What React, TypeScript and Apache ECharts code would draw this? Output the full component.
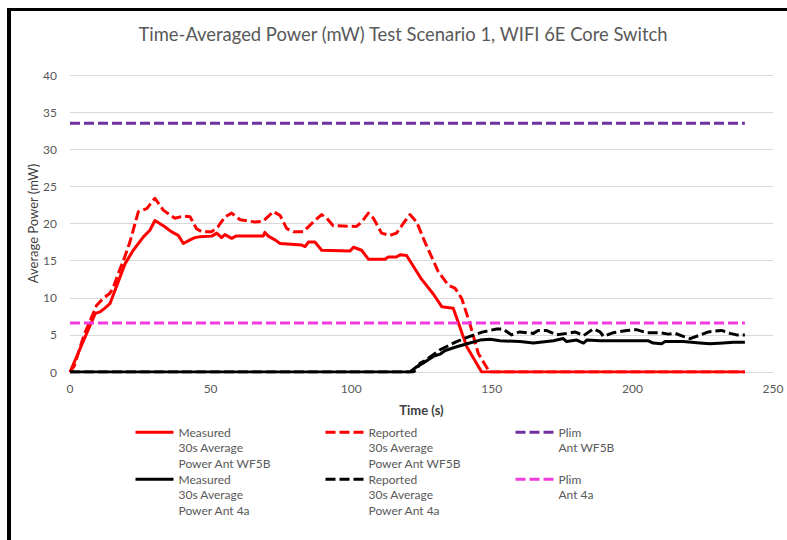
import React, { useEffect, useRef } from "react";
import * as echarts from "echarts";

// ---- data (time in s, power in mW) ----
const xTicks = [0, 50, 100, 150, 200, 250];
const yTicks = [0, 5, 10, 15, 20, 25, 30, 35, 40];

const seriesNames = [
  "Measured\n30s Average\nPower Ant WF5B",
  "Reported\n30s Average\nPower Ant WF5B",
  "Plim\nAnt WF5B",
  "Measured\n30s Average\nPower Ant 4a",
  "Reported\n30s Average\nPower Ant 4a",
  "Plim\nAnt 4a",
];

const measuredWF5B = [
  [0, 0], [9, 7.9], [10.7, 8.1], [12.4, 8.6], [14.2, 9.2], [17, 12], [19.6, 14.6],
  [22.5, 16.4], [26.1, 18.2], [28.4, 19.1], [30.2, 20.4], [33.6, 19.6], [36, 18.9],
  [38.5, 18.4], [40.3, 17.3], [42.7, 17.8], [44.4, 18.1], [46, 18.2], [50.4, 18.3],
  [52.2, 18.7], [53.9, 18.1], [55.1, 18.5], [57.5, 18.0], [59, 18.3], [68.7, 18.3],
  [69.3, 18.8], [70.5, 18.3], [72.9, 17.8], [74.7, 17.3], [82.4, 17.1], [83.6, 16.9],
  [84.8, 17.5], [87.1, 17.5], [89.5, 16.4], [99.6, 16.3], [100.8, 16.8], [103.7, 16.4],
  [106.1, 15.2], [112, 15.2], [113.2, 15.5], [116.1, 15.5], [117.4, 15.8], [119.7, 15.7],
  [125, 12.5], [129.2, 10.5], [132.2, 8.8], [136.3, 8.6], [141.1, 3.4], [146.4, 0],
  [240, 0],
];

const reportedWF5B = [
  [0, 0], [1.5, 0.8], [5, 5], [9.5, 9.0], [11.8, 9.9], [14.2, 10.6], [15.5, 11.5],
  [17.2, 13.3], [19, 15], [21.3, 17.5], [24.3, 21.6], [27.3, 22.0], [30.2, 23.4],
  [33.2, 21.8], [37.3, 20.7], [40.3, 21.0], [42.7, 20.9], [45, 19.3], [46.8, 18.9],
  [50.4, 18.9], [52.7, 19.6], [55.1, 20.9], [57.5, 21.4], [60.5, 20.5], [65.8, 20.2],
  [68.7, 20.3], [72.3, 21.6], [74.7, 21.1], [77.1, 19.3], [79.4, 18.9], [83, 18.9],
  [86.5, 20.2], [89.5, 21.2], [91.3, 20.7], [93.6, 19.7], [101.9, 19.6], [103.7, 20.2],
  [106.1, 21.4], [107.9, 20.7], [110.8, 18.7], [113.8, 18.4], [116.1, 18.7], [118.5, 20.0],
  [120.9, 21.2], [123.3, 20.2], [126.2, 17.5], [131, 13.5], [134.5, 11.7], [136.9, 11.3],
  [139.3, 9.9], [142.2, 6.5], [145.2, 2.5], [149, 0.1], [150, 0], [240, 0],
];

const plimWF5B = [[0, 33.5], [240, 33.5]];

const measured4a = [
  [0, 0], [120.9, 0], [123.3, 0.7], [126, 1.3], [129.2, 2.1], [131.6, 2.4], [133.4, 2.9],
  [137.5, 3.4], [142.2, 3.9], [145.8, 4.3], [149.4, 4.4], [152.9, 4.2], [160, 4.1],
  [164.8, 3.9], [171.9, 4.2], [175.4, 4.5], [176.6, 4.1], [180.2, 4.3], [182.6, 3.9],
  [183.8, 4.3], [188.5, 4.2], [202.7, 4.2], [205.7, 4.2], [207.4, 3.9], [210.4, 3.8],
  [211.6, 4.1], [218.1, 4.1], [224, 3.9], [227.6, 3.8], [232.3, 3.9], [235.9, 4.0],
  [240, 4.0],
];

const reported4a = [
  [0, 0], [122, 0], [123.3, 0.3], [124.5, 1.2], [126.2, 1.5], [131.6, 3.0], [137.5, 4.1],
  [142.2, 4.8], [146.9, 5.4], [151.7, 5.8], [154, 5.8], [157, 5.0], [160, 5.4],
  [164.8, 5.2], [166.5, 5.6], [169.4, 5.6], [173, 5.0], [176.6, 5.2], [179.6, 5.4],
  [182.6, 4.9], [186.1, 5.8], [188.5, 5.4], [189.7, 4.8], [193.2, 5.3], [198, 5.6],
  [201.5, 5.7], [205, 5.3], [209.8, 5.3], [212.8, 5.1], [215.2, 5.2], [218.1, 4.8],
  [220.5, 4.5], [223.5, 4.9], [227, 5.4], [231.7, 5.6], [234.7, 5.2], [237.1, 5.0],
  [240, 5.0],
];

const plim4a = [[0, 6.6], [240, 6.6]];

const seriesData = [measuredWF5B, reportedWF5B, plimWF5B, measured4a, reported4a, plim4a];
const seriesColors = ["#FF0000", "#FF0000", "#7030A0", "#000000", "#000000", "#F03CDC"];
const seriesDashed = [false, true, true, false, true, true];

const FONT = "Lato, 'Open Sans', sans-serif";
const LH = 15.5;

export default function App() {
  const ref = useRef<HTMLDivElement>(null);

  useEffect(() => {
    if (!ref.current) return;
    const chart = echarts.init(ref.current, null, { renderer: "svg" });

    const legendPos = [
      [134, 432.3], [324, 432.3], [514, 432.3],
      [134, 479.3], [324, 479.3], [514, 479.3],
    ];

    const legends = seriesNames.map((name, i) => {
      const n = name.split("\n").length;
      const offset = ((2 * n - 1) * LH) / 2;
      const pre = "\n".repeat(n - 1);
      return {
        data: [name],
        left: legendPos[i][0],
        top: legendPos[i][1] - offset,
        padding: 0,
        orient: "horizontal",
        itemWidth: 38,
        itemHeight: 14,
        selectedMode: false,
        itemStyle: { opacity: 0 },
        lineStyle: { width: 3 },
        formatter: (nm: string) => pre + nm,
        textStyle: {
          fontFamily: FONT,
          fontSize: 12,
          color: "#595959",
          lineHeight: LH,
        },
      };
    });

    chart.setOption({
      animation: false,
      backgroundColor: "#ffffff",
      title: {
        text: "Time-Averaged Power (mW) Test Scenario 1, WIFI 6E Core Switch",
        left: 403,
        top: 34,
        padding: 0,
        textAlign: "center",
        textVerticalAlign: "middle",
        textStyle: { fontFamily: FONT, fontSize: 18.4, fontWeight: "normal", color: "#595959" },
      },
      legend: legends,
      grid: { left: 70, right: 14, top: 75, bottom: 168, containLabel: false },
      xAxis: {
        type: "value",
        min: xTicks[0],
        max: xTicks[xTicks.length - 1],
        interval: 50,
        name: "Time (s)",
        nameLocation: "middle",
        nameGap: 31,
        nameMoveOverlap: false,
        nameTextStyle: { fontFamily: FONT, fontSize: 13, fontWeight: "bold", color: "#404040" },
        axisLine: { show: true, lineStyle: { color: "#D9D9D9", width: 1 } },
        axisTick: { show: false },
        splitLine: { show: false },
        axisLabel: { fontFamily: FONT, fontSize: 12, color: "#595959", margin: 10 },
      },
      yAxis: {
        type: "value",
        min: yTicks[0],
        max: yTicks[yTicks.length - 1],
        interval: 5,
        name: "Average Power (mW)",
        nameLocation: "middle",
        nameGap: 31,
        nameMoveOverlap: false,
        nameTextStyle: { fontFamily: FONT, fontSize: 13, color: "#404040" },
        axisLine: { show: false },
        axisTick: { show: false },
        splitLine: { show: true, lineStyle: { color: "#D9D9D9", width: 1 } },
        axisLabel: { fontFamily: FONT, fontSize: 12, color: "#595959", margin: 13 },
      },
      series: seriesNames.map((name, i) => ({
        name,
        type: "line",
        data: seriesData[i],
        showSymbol: false,
        symbol: "none",
        smooth: false,
        silent: true,
        lineStyle: {
          color: seriesColors[i],
          width: 3,
          type: seriesDashed[i] ? [10, 4] : "solid",
          cap: "butt",
          join: "round",
        },
        itemStyle: { color: seriesColors[i] },
        z: 2,
      })),
    });

    return () => chart.dispose();
  }, []);

  return (
    <div style={{ position: "fixed", left: 0, top: 0, width: 787, height: 540, background: "#fff", overflow: "hidden" }}>
      <div ref={ref} style={{ position: "absolute", left: 0, top: 0, width: 787, height: 540 }} />
      <div style={{ position: "absolute", left: 7, top: 8, width: 4, height: 532, background: "#000" }} />
      <div style={{ position: "absolute", left: 7, top: 8, width: 780, height: 3, background: "#000" }} />
    </div>
  );
}
